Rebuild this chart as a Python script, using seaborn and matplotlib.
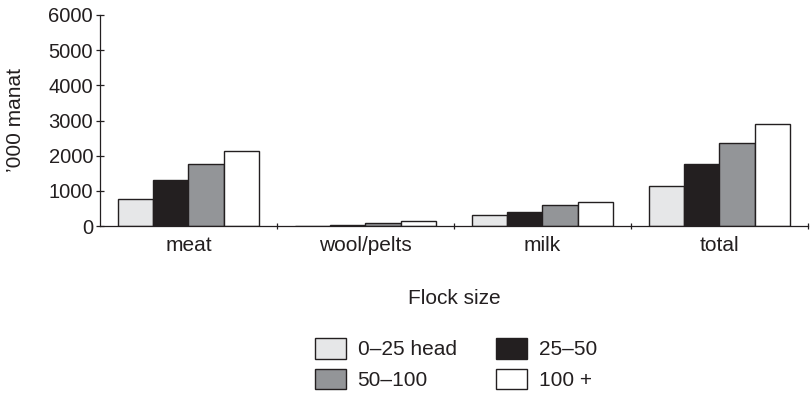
import matplotlib
matplotlib.use("Agg")
import matplotlib.pyplot as plt
from matplotlib.patches import Patch
import seaborn as sns
import pandas as pd

# Revenue by product and flock size ('000 manat)
categories = ["meat", "wool/pelts", "milk", "total"]
flock_sizes = ["0–25 head", "25–50", "50–100", "100 +"]
head_0_25 = [760, 10, 300, 1140]
head_25_50 = [1300, 15, 390, 1757]
head_50_100 = [1750, 85, 607, 2365]
head_100_plus = [2120, 150, 690, 2897]
yticks = [0, 1000, 2000, 3000, 4000, 5000, 6000]

colors = ["#e6e7e8", "#231f20", "#939598", "#ffffff"]
edge = "#231f20"
ink = "#231f20"
fs = 15

series = [head_0_25, head_25_50, head_50_100, head_100_plus]
rows = []
for size, vals in zip(flock_sizes, series):
    for cat, v in zip(categories, vals):
        rows.append({"product": cat, "flock": size, "value": v})
df = pd.DataFrame(rows)

sns.set_style("white")
plt.rcParams["font.family"] = ["Liberation Sans", "DejaVu Sans"]

fig = plt.figure(figsize=(8.12, 3.96), dpi=100)
ax = fig.add_axes([100 / 812, 1 - 226 / 396, 708 / 812, 211 / 396])

sns.barplot(data=df, x="product", y="value", hue="flock", order=categories,
            hue_order=flock_sizes, palette=colors, width=0.8, ax=ax,
            edgecolor=edge, linewidth=1.0, legend=False, errorbar=None,
            saturation=1)

ax.set_xlim(-0.5, 3.5)
ax.set_ylim(0, 6000)
ax.set_yticks(yticks)
ax.set_yticklabels([str(t) for t in yticks], fontsize=fs - 0.5, color=ink)
ax.tick_params(axis="y", direction="inout", length=6, width=0.9,
               color=ink, pad=2, left=True)

ax.set_xticks(range(len(categories)))
ax.set_xticklabels(categories, fontsize=fs, color=ink)
ax.tick_params(axis="x", which="major", length=0, pad=7)
ax.set_xticks([0.5, 1.5, 2.5, 3.5], minor=True)
ax.tick_params(axis="x", which="minor", direction="inout", length=5,
               width=0.9, color=ink, bottom=True)

for s in ["top", "right"]:
    ax.spines[s].set_visible(False)
for s in ["left", "bottom"]:
    ax.spines[s].set_color(ink)
    ax.spines[s].set_linewidth(0.9)

ax.set_xlabel("")
ax.set_ylabel("")
fig.text(16 / 812, 1 - 120 / 396, "’000 manat", rotation=90, ha="center",
         va="center", fontsize=fs, color=ink)
fig.text(454 / 812, 1 - 299 / 396, "Flock size", ha="center", va="center",
         fontsize=fs, color=ink)

handles = [Patch(facecolor=c, edgecolor=edge, linewidth=1.0) for c in colors]
order = [0, 2, 1, 3]
fig.legend([handles[i] for i in order], [flock_sizes[i] for i in order],
           ncol=2, loc="center", bbox_to_anchor=(456 / 812, 1 - 364 / 396),
           frameon=False, fontsize=fs, handlelength=1.5, handleheight=1.15,
           handletextpad=0.55, columnspacing=1.9, labelspacing=0.45,
           labelcolor=ink, borderpad=0)

fig.savefig("out.png", dpi=100)
